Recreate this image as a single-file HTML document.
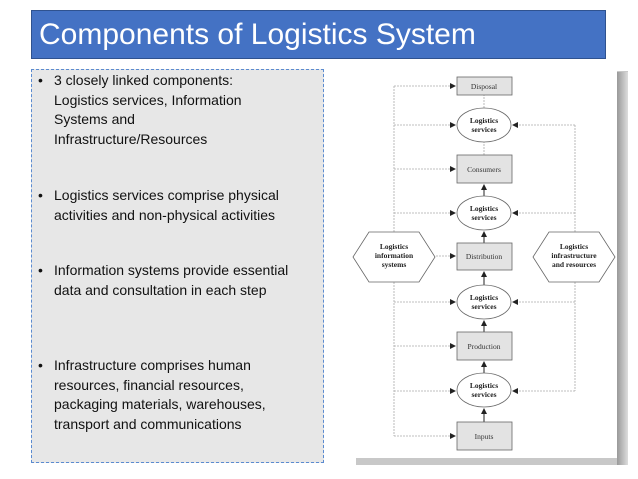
<!DOCTYPE html>
<html><head><meta charset="utf-8"><style>
body{margin:0;width:638px;height:479px;background:#fff;position:relative;overflow:hidden;font-family:"Liberation Sans",sans-serif}
.title{position:absolute;left:31px;top:10px;width:575px;height:49px;background:#4472c4;border:1px solid #2f528f;color:#fff;font-size:30px;line-height:48px;padding-left:7px;box-sizing:border-box}
.panel{position:absolute;left:31px;top:69px;width:293px;height:394px;background:#e7e7e7;border:1px dashed #5b8bd0;box-sizing:border-box}
.p{position:absolute;left:54px;font-size:14px;line-height:19.6px;color:#111;width:236px}
.p:before{content:"•";position:absolute;left:-16px}
</style></head><body>
<div class="title">Components of Logistics System</div>
<div class="panel"></div>
<div class="p" style="top:71px">3 closely linked components: Logistics services, Information Systems and Infrastructure/Resources</div>
<div class="p" style="top:186px">Logistics services comprise physical activities and non-physical activities</div>
<div class="p" style="top:261px">Information systems provide essential data and consultation in each step</div>
<div class="p" style="top:356px">Infrastructure comprises human resources, financial resources, packaging materials, warehouses, transport and communications</div>
<svg style="position:absolute;left:0;top:0" width="638" height="479" font-family="Liberation Serif,serif">
<defs><marker id="a" markerWidth="6" markerHeight="6" refX="5" refY="3" orient="auto" markerUnits="userSpaceOnUse"><path d="M0,0L6,3L0,6z" fill="#222"/></marker>
<linearGradient id="g" x1="0" y1="0" x2="1" y2="0"><stop offset="0" stop-color="#999"/><stop offset="1" stop-color="#ddd"/></linearGradient></defs>
<rect x="356" y="71" width="272" height="394" fill="#c8c8c8"/>
<rect x="617" y="72" width="11" height="393" fill="url(#g)"/>
<rect x="352" y="67" width="265" height="391" fill="#fff"/>
<g stroke="#aaa" stroke-width="0.8" stroke-dasharray="2,1" fill="none">
<path d="M394,232V86M394,282V436"/>
<path d="M575,232V125M575,282V391"/>
<line x1="394" y1="86" x2="455" y2="86" marker-end="url(#a)"/>
<line x1="394" y1="125" x2="455" y2="125" marker-end="url(#a)"/>
<line x1="394" y1="169" x2="455" y2="169" marker-end="url(#a)"/>
<line x1="394" y1="213" x2="455" y2="213" marker-end="url(#a)"/>
<line x1="436" y1="256" x2="455" y2="256" marker-end="url(#a)"/>
<line x1="394" y1="302" x2="455" y2="302" marker-end="url(#a)"/>
<line x1="394" y1="346" x2="455" y2="346" marker-end="url(#a)"/>
<line x1="394" y1="391" x2="455" y2="391" marker-end="url(#a)"/>
<line x1="394" y1="436" x2="455" y2="436" marker-end="url(#a)"/>
<line x1="575" y1="125" x2="513" y2="125" marker-end="url(#a)"/>
<line x1="575" y1="213" x2="513" y2="213" marker-end="url(#a)"/>
<line x1="575" y1="302" x2="513" y2="302" marker-end="url(#a)"/>
<line x1="575" y1="391" x2="513" y2="391" marker-end="url(#a)"/>
<path d="M484,108V95M484,155V142"/>
</g>
<g stroke="#222" stroke-width="1" fill="none">
<line x1="484" y1="196" x2="484" y2="185" marker-end="url(#a)"/>
<line x1="484" y1="243" x2="484" y2="232" marker-end="url(#a)"/>
<line x1="484" y1="285" x2="484" y2="272" marker-end="url(#a)"/>
<line x1="484" y1="332" x2="484" y2="321" marker-end="url(#a)"/>
<line x1="484" y1="373" x2="484" y2="362" marker-end="url(#a)"/>
<line x1="484" y1="422" x2="484" y2="409" marker-end="url(#a)"/>
</g>
<g fill="#e3e3e3" stroke="#666" stroke-width="0.8">
<rect x="457" y="77" width="55" height="18"/>
<rect x="457" y="155" width="55" height="28"/>
<rect x="457" y="243" width="55" height="27"/>
<rect x="457" y="332" width="55" height="28"/>
<rect x="457" y="422" width="55" height="28"/>
</g>
<g fill="#fff" stroke="#666" stroke-width="0.8">
<ellipse cx="484" cy="125" rx="27" ry="17"/>
<ellipse cx="484" cy="213" rx="27" ry="17"/>
<ellipse cx="484" cy="302" rx="27" ry="17"/>
<ellipse cx="484" cy="390" rx="27" ry="17"/>
<polygon points="353,257 369,232 419,232 435,257 419,282 369,282"/>
<polygon points="533,257 549,232 599,232 615,257 599,282 549,282"/>
</g>
<g font-size="7.5" text-anchor="middle" fill="#333">
<text x="484" y="89">Disposal</text>
<text x="484" y="172">Consumers</text>
<text x="484" y="259">Distribution</text>
<text x="484" y="349">Production</text>
<text x="484" y="439">Inputs</text>
<g font-weight="bold" fill="#222">
<text x="484" y="123">Logistics</text><text x="484" y="132">services</text>
<text x="484" y="211">Logistics</text><text x="484" y="220">services</text>
<text x="484" y="300">Logistics</text><text x="484" y="309">services</text>
<text x="484" y="388">Logistics</text><text x="484" y="397">services</text>
<text x="394" y="249">Logistics</text><text x="394" y="258">information</text><text x="394" y="267">systems</text>
<text x="574" y="249">Logistics</text><text x="574" y="258">infrastructure</text><text x="574" y="267">and resources</text>
</g></g>
</svg>
</body></html>
